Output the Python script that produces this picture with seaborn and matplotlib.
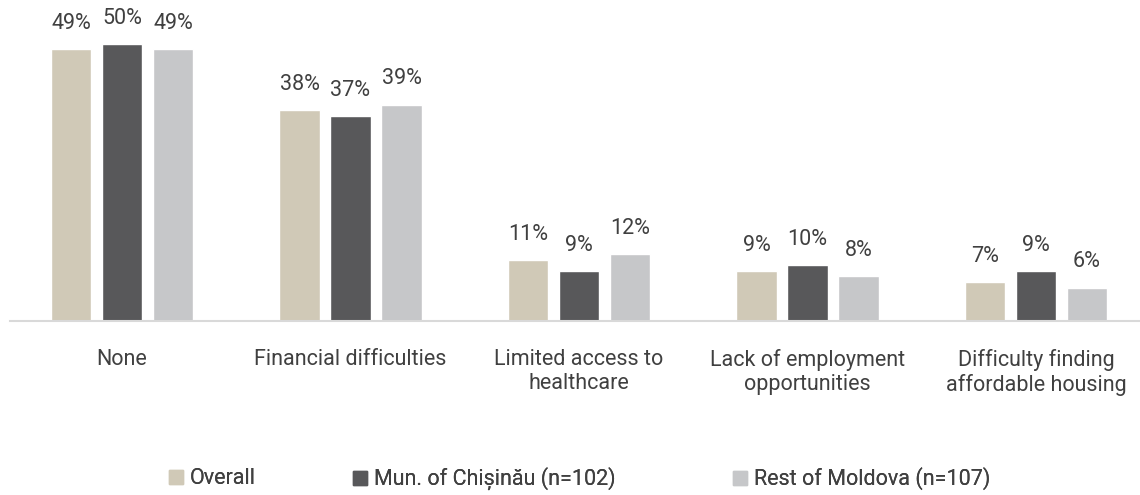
import pandas as pd
import matplotlib.pyplot as plt
import seaborn as sns

# ── Data ──────────────────────────────────────────────
categories = ['None', 'Financial difficulties', 'Limited access to\nhealthcare',
              'Lack of employment\nopportunities', 'Difficulty finding\naffordable housing']
groups = ['Overall', 'Mun. of Chișinău (n=102)', 'Rest of Moldova (n=107)']
overall = [49, 38, 11, 9, 7]
chisinau = [50, 37, 9, 10, 9]
rest = [49, 39, 12, 8, 6]

colors = ['#D0C9B7', '#58585A', '#C6C7C9']

df = pd.DataFrame({
    'category': categories * 3,
    'group': [groups[0]] * 5 + [groups[1]] * 5 + [groups[2]] * 5,
    'value': overall + chisinau + rest,
})

sns.set_style('white')
plt.rcParams['font.family'] = ['Roboto', 'DejaVu Sans']
text_color = '#404040'
fs = 15.5

fig = plt.figure(figsize=(11.4, 4.95), dpi=100)
ax = fig.add_axes([0.00877, 0.352, 0.99123, 0.64])

sns.barplot(data=df, x='category', y='value', hue='group', order=categories,
            hue_order=groups, palette=colors, width=0.67, gap=0.2,
            saturation=1, ax=ax, legend=False)

for cont in ax.containers:
    ax.bar_label(cont, labels=[f'{int(v)}%' for v in cont.datavalues],
                 padding=11, fontsize=fs, color=text_color)

ax.set_ylim(0, 57.2)
ax.set_xlim(-0.49, 4.455)
ax.set_xlabel('')
ax.set_ylabel('')
ax.set_yticks([])
for s in ['top', 'right', 'left']:
    ax.spines[s].set_visible(False)
ax.spines['bottom'].set_color('#D9D9D9')
ax.spines['bottom'].set_linewidth(1.5)
ax.tick_params(axis='x', length=0, pad=20, labelsize=fs, labelcolor=text_color)

# ── Legend (one entry per position) ──────────────────
legend_x = [169, 353, 733]
for lx, g, c in zip(legend_x, groups, colors):
    leg = fig.legend([plt.Rectangle((0, 0), 1, 1, color=c)], [g], loc='center left',
                     bbox_to_anchor=(lx / 1140, 1 - 479 / 495), frameon=False,
                     fontsize=fs, labelcolor=text_color, borderpad=0, borderaxespad=0,
                     handlelength=0.65, handleheight=0.65, handletextpad=0.33)
    fig.add_artist(leg)

plt.savefig('out.png', dpi=100)
